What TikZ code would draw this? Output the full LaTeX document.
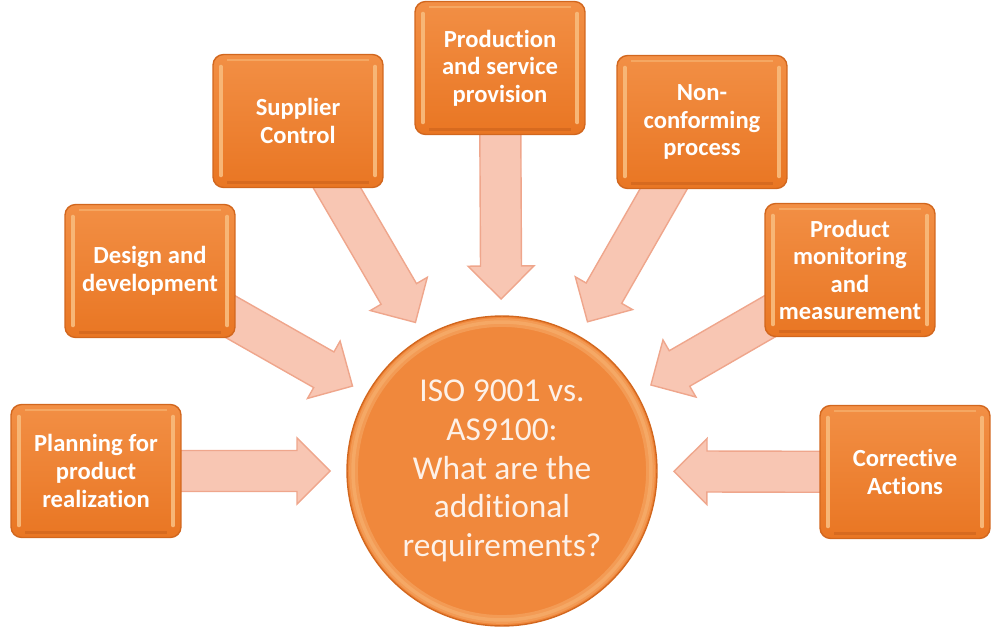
\documentclass[tikz,border=0pt]{standalone}
\usepackage{fontspec}
\setmainfont{Carlito}[Ligatures=NoCommon]
\usetikzlibrary{calc}
\definecolor{boxor}{HTML}{EE7E2E}
\definecolor{boxtop}{HTML}{F28F45}
\definecolor{boxbot}{HTML}{E97623}
\definecolor{boxhi}{HTML}{F7B676}
\definecolor{boxedge}{HTML}{D2671E}
\definecolor{circor}{HTML}{F0883C}
\definecolor{circhi}{HTML}{F5A865}
\definecolor{arrfill}{HTML}{F8C6B3}
\definecolor{arredge}{HTML}{EFA68C}
\definecolor{ctext}{HTML}{FDF1E8}
\newcommand\mytightspace{\spaceskip=2.9pt plus 1pt\relax}
\newcommand\myhubspace{\spaceskip=4.3pt plus 1pt\relax}
\pgfdeclarelayer{bg}
\pgfsetlayers{bg,main}
\tikzset{
  boxnode/.style={rectangle, rounded corners=6pt, top color=boxtop, bottom color=boxbot,
    draw=boxedge, line width=0.8pt,
    minimum width=3.4cm, minimum height=2.66cm, inner sep=0pt, text width=3.2cm, align=center,
    text=white, font=\bfseries\fontsize{14}{15.7}\selectfont,
    execute at begin node=\mytightspace,
    path picture={
      \draw[boxhi, line width=2.4pt, line cap=round]
        ([xshift=4.5pt,yshift=-7pt]path picture bounding box.north west) --
        ([xshift=4.5pt,yshift=7pt]path picture bounding box.south west);
      \draw[boxhi, line width=2.4pt, line cap=round]
        ([xshift=-4.5pt,yshift=-7pt]path picture bounding box.north east) --
        ([xshift=-4.5pt,yshift=7pt]path picture bounding box.south east);
      \draw[boxhi!60!boxtop, line width=1.2pt]
        ([xshift=8pt,yshift=-3pt]path picture bounding box.north west) --
        ([xshift=-8pt,yshift=-3pt]path picture bounding box.north east);
      \draw[boxedge!80!boxbot, line width=1.5pt]
        ([xshift=8pt,yshift=3pt]path picture bounding box.south west) --
        ([xshift=-8pt,yshift=3pt]path picture bounding box.south east);}},
  hubnode/.style={circle, fill=circor, draw=boxedge, line width=0.8pt, minimum size=6.2cm,
    inner sep=0pt, align=center, text=ctext, font=\fontsize{19}{22}\selectfont,
    execute at begin node=\myhubspace,
    path picture={\draw[circhi!60!circor, line width=5pt] (path picture bounding box.center) circle (2.97cm);
      \draw[circhi, line width=2pt] (path picture bounding box.center) circle (2.98cm);}},
  blockarrow/.style={fill=arrfill, draw=arredge, line width=0.8pt, line join=miter}
}
\newcommand\blockarrowto[1]{%
  \coordinate (T#1) at ($(c.center)!3.44cm!(#1.center)$);
  \coordinate (H#1) at ($(c.center)!4.1cm!(#1.center)$);
  \path[blockarrow]
    ($(#1.center)!0.41cm!90:(c.center)$) --
    ($(H#1)!0.41cm!90:(c.center)$) --
    ($(H#1)!0.66cm!90:(c.center)$) --
    (T#1) --
    ($(H#1)!0.66cm!-90:(c.center)$) --
    ($(H#1)!0.41cm!-90:(c.center)$) --
    ($(#1.center)!0.41cm!-90:(c.center)$) -- cycle;}
\begin{document}
\begin{tikzpicture}[x=0.02cm,y=-0.02cm]
\useasboundingbox (0,0) rectangle (1000,628);
\node[hubnode] (c) at (502,471) {ISO 9001 vs.\\AS9100:\\What are the\\additional\\requirements?};
\node[boxnode] (plan) at (96,471) {Planning for\\product\\realization};
\node[boxnode] (design) at (150,271) {Design and\\development};
\node[boxnode] (supp) at (298,121) {Supplier\\Control};
\node[boxnode] (prod) at (500,68) {Production\\and service\\provision};
\node[boxnode] (nonc) at (702,122) {Non-\\conforming\\process};
\node[boxnode] (mon) at (850,270) {Product\\monitoring\\and\\measurement};
\node[boxnode] (corr) at (905,472) {Corrective\\Actions};
\begin{pgfonlayer}{bg}
\blockarrowto{plan}
\blockarrowto{design}
\blockarrowto{supp}
\blockarrowto{prod}
\blockarrowto{nonc}
\blockarrowto{mon}
\blockarrowto{corr}
\end{pgfonlayer}
\end{tikzpicture}
\end{document}
